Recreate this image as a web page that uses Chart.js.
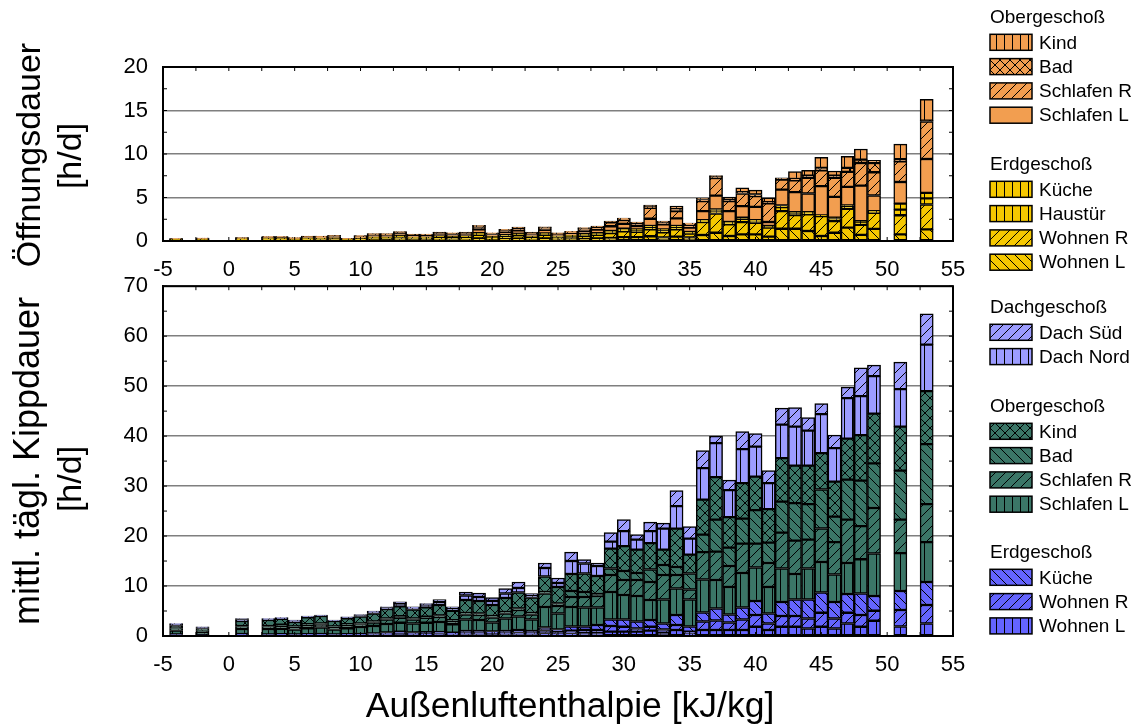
<!DOCTYPE html>
<html>
<head>
<meta charset="utf-8">
<script src="https://cdn.jsdelivr.net/npm/chart.js@4.4.1/dist/chart.umd.min.js"></script>
<style>
  html, body { margin: 0; padding: 0; background: #fff; }
  #wrap { position: relative; width: 1138px; height: 724px; }
  #topChart { position: absolute; left: 0; top: 0; }
  #bottomChart { position: absolute; left: 0; top: 258px; }
</style>
</head>
<body>
<div id="wrap">
  <canvas id="topChart" width="1138" height="285"></canvas>
  <canvas id="bottomChart" width="1138" height="466"></canvas>
</div>
<script>
// Außenluftenthalpie classes [kJ/kg]
const enthalpy = [-4, -2, 1, 3, 4, 5, 6, 7, 8, 9, 10, 11, 12, 13, 14, 15, 16, 17, 18, 19,
  20, 21, 22, 23, 24, 25, 26, 27, 28, 29, 30, 31, 32, 33, 34, 35, 36, 37, 38, 39,
  40, 41, 42, 43, 44, 45, 46, 47, 48, 49, 51, 53];

// top chart: Öffnungsdauer [h/d]
const topWohnenL = [.08,.1,.1,.12,.1,.08,.12,.1,.12,.06, .12,.16,.15,.2,.15,.14,.18,.17,.18,.3,
  .16,.23,.28,.18,.3,.2,.2,.25,.3,.35, .45,.45,.55,.4,.5,.4,.69,.95,.57,.76,
  .76,.5,1.41,1.41,1.15,.57,.95,1.53,.7,1.4, .76,1.34];
const topWohnenR = [.06,.08,.1,.13,.12,.1,.14,.15,.16,.08, .15,.2,.21,.26,.2,.2,.26,.24,.25,.42,
  .23,.32,.38,.25,.4,.25,.3,.35,.4,.55, .65,.6,.8,.6,.85,.45,1.49,2.21,1.34,1.41,
  1.34,1.03,2.02,1.56,1.91,2.29,1.34,2.18,1.15,1.83, 2.2,2.86];
const topHaustuer = [.02,.02,.03,.04,.03,.03,.04,.04,.05,.02, .04,.06,.05,.07,.05,.06,.07,.06,.07,.1,
  .06,.08,.1,.06,.1,.07,.08,.12,.12,.15, .18,.17,.22,.2,.22,.1,.11,.31,.19,.38,
  .19,.12,.46,.27,.19,.04,.3,.3,.38,.1, .65,.7];
const topKueche = [.02,.02,.02,.03,.03,.02,.03,.03,.03,.02, .03,.04,.04,.05,.04,.04,.05,.04,.05,.07,
  .05,.06,.07,.05,.07,.05,.06,.08,.08,.1, .13,.12,.15,.14,.15,.08,.11,.15,.08,.12,
  .11,.07,.19,.08,.07,.04,.08,.07,.06,.1, .69,.63];
const topSchlafenL = [.05,.07,.08,.1,.13,.08,.14,.14,.16,.07, .15,.2,.22,.27,.2,.21,.26,.24,.27,.45,
  .25,.35,.4,.27,.4,.2,.25,.35,.4,.55, .55,.38,.84,.57,.88,.5,1.03,1.6,1.26,1.34,
  1.53,.46,1.83,2.29,2.14,3.36,2.4,2.14,4.08,1.8, 2.48,3.9];
const topSchlafenR = [.02,.03,.03,.05,.06,.04,.06,.07,.09,.03, .08,.12,.11,.15,.1,.1,.14,.13,.14,.3,
  .14,.2,.25,.15,.25,.1,.13,.25,.3,.45, .45,.3,1.26,.2,.84,.3,1.15,2.02,1.15,1.45,
  1.22,2.14,1.15,1.37,1.79,1.83,2.18,1.72,2.6,2.67, 2.37,4.31];
const topBad = [.01,.01,.01,.02,.02,.02,.02,.02,.02,.01, .02,.03,.03,.04,.03,.03,.04,.04,.04,.08,
  .03,.05,.06,.04,.06,.04,.04,.07,.06,.07, .1,.08,.1,.1,.27,.1,.19,.19,.19,.15,
  .19,.15,.19,.15,.27,.27,.27,.46,.38,1.07, .27,.1];
const topKind = [.01,.01,.01,.01,.01,.01,.02,.02,.02,.01, .02,.03,.03,.03,.03,.02,.03,.03,.03,.07,
  .03,.05,.06,.03,.06,.04,.04,.06,.06,.07, .12,.08,.2,.08,.3,.14,.15,.08,.27,.5,
  .5,.5,0,.84,.61,1.22,.53,1.34,1.22,.3, 1.72,2.44];

// bottom chart: mittl. tägl. Kippdauer [h/d]
const botWohnenL = [.1,.1,.15,.1,.1,.1,.1,.1,.1,.1, .1,.15,.2,.25,.2,.2,.25,.2,.3,.3,
  .25,.3,.3,.3,.5,.4,.5,.6,.6,.86, .86,.86,1.06,.66,1.2,.4,1.2,1.2,1.2,1.2,
  1.86,1.2,1.86,1.86,1.5,1.86,1.5,2.5,1.86,3.06, 1.9,2.5];
const botWohnenR = [.1,.05,.1,.1,.1,.1,.1,.15,.1,.1, .15,.15,.2,.3,.2,.25,.25,.2,.3,.3,
  .3,.3,.4,.3,.6,.4,.56,.6,.6,1.14, 1.0,.64,.8,.64,1.0,.46,1.7,1.9,1.5,2.1,
  2.34,1.3,2.14,2.14,2.0,2.8,2.0,2.15,2.34,2.0, 3.3,3.7];
const botKueche = [.1,.1,.15,.1,.15,.1,.15,.15,.1,.15, .15,.2,.3,.3,.3,.3,.3,.25,.4,.4,
  .35,.4,.5,.4,.6,.5,.84,.7,1.0,1.3, 1.44,1.4,1.34,1.2,2.0,1.04,1.8,2.4,1.6,2.4,
  2.8,2.0,2.8,3.3,3.8,4.05,3.3,3.75,4.3,2.95, 3.8,4.6];
const botSchlafenL = [.8,.6,1.0,1.1,1.1,1.0,1.2,1.3,1.0,1.2, 1.4,1.5,1.7,1.8,1.8,1.9,2.0,1.7,2.3,2.2,
  1.8,2.5,2.7,2.3,4.1,3.2,3.9,3.8,3.5,5.5, 4.9,5.1,4.0,4.8,5.3,5.4,6.6,5.7,5.5,6.9,
  6.7,5.3,6.7,5.1,6.2,6.1,5.5,6.2,6.85,8.5, 7.6,8.0];
const botSchlafenR = [.3,.2,.5,.5,.6,.5,.6,.6,.5,.6, .5,.7,.9,1.0,.8,1.0,1.0,.6,1.0,1.0,
  1.0,1.0,1.3,1.0,2.7,1.5,2.0,2.1,2.3,3.4, 3.0,3.2,3.6,4.9,2.7,2.0,5.5,5.7,4.2,5.9,
  4.8,4.8,7.2,6.7,5.8,6.7,6.5,8.7,6.65,9.1, 6.7,7.6];
const botBad = [.1,.05,.1,.1,.2,.1,.2,.2,.1,.2, .2,.2,.2,.3,.2,.2,.3,.2,.3,.3,
  .3,.3,.3,.3,.3,.5,1.2,1.0,.4,1.3, 1.8,1.4,2.5,2.0,1.6,3.2,3.5,6.4,3.7,5.0,
  6.7,4.1,6.2,7.5,7.1,7.8,5.1,8.0,9.1,8.95, 9.8,12.0];
const botKind = [.6,.4,1.0,1.2,1.2,.9,1.4,1.5,1.1,1.2, 1.4,1.6,1.9,2.0,1.8,1.9,2.1,1.9,2.6,2.5,
  2.2,2.8,3.2,3.1,3.1,3.3,3.4,3.7,3.6,4.0, 5.0,4.7,5.3,3.1,7.7,3.8,7.0,8.5,6.1,7.1,
  6.7,6.7,8.7,7.5,7.7,7.3,7.0,8.2,9.1,9.95, 8.8,10.6];
const botDachNord = [.25,.2,.3,.2,.15,.2,.15,.1,.1,.2, .2,.3,.3,.5,.3,.5,.6,.5,.9,.8,
  .8,.9,.9,.5,1.7,.8,2.6,2.0,2.0,1.4, 3.0,2.0,2.4,4.2,4.5,3.2,6.3,6.8,5.4,6.8,
  6.0,5.2,6.7,7.8,7.0,7.8,6.7,8.1,7.8,7.5, 7.5,9.3];
const botDachSued = [.15,.16,.2,.1,.1,.2,.1,.1,.1,.1, .2,.2,.15,.4,.25,.25,.5,.3,.7,.8,
  .7,1.0,1.2,.3,1.0,1.0,1.8,.8,.6,1.8, 2.3,1.0,1.8,1.1,3.1,2.4,3.5,1.4,2.0,3.5,
  2.6,2.5,3.3,3.8,2.6,2.1,2.6,2.2,5.65,2.2, 5.4,6.15];

const xTicks = { min: -5, max: 55, step: 5 };

const ORANGE = '#F29E50';
const YELLOW = '#F5C800';
const GREEN = '#3B7667';
const BLUE = '#6464FF';
const LILAC = '#9C9CFF';
const FONT = "'Liberation Sans', Arial, sans-serif";

// hatch fill like the old excel patterns
function hatch(ctx, color, kind) {
  if (kind === 'solid') return color;
  const s = kind === 'vert' ? 8 : 10;
  const c = document.createElement('canvas');
  c.width = s; c.height = s;
  const g = c.getContext('2d');
  g.fillStyle = color;
  g.fillRect(0, 0, s, s);
  g.strokeStyle = '#000';
  g.lineWidth = 1;
  g.beginPath();
  if (kind === 'vert') {
    g.moveTo(s / 2 + 0.5, 0); g.lineTo(s / 2 + 0.5, s);
  }
  if (kind === 'fwd' || kind === 'cross') {
    g.moveTo(-1, s + 1); g.lineTo(s + 1, -1);
    g.moveTo(-1, 1); g.lineTo(1, -1);
    g.moveTo(s - 1, s + 1); g.lineTo(s + 1, s - 1);
  }
  if (kind === 'back' || kind === 'cross') {
    g.moveTo(-1, -1); g.lineTo(s + 1, s + 1);
    g.moveTo(s - 1, -1); g.lineTo(s + 1, 1);
    g.moveTo(-1, s - 1); g.lineTo(1, s + 1);
  }
  g.stroke();
  return ctx.createPattern(c, 'repeat');
}

function series(ctx, label, values, color, kind) {
  return {
    label: label,
    data: enthalpy.map((x, i) => ({ x: x, y: values[i] })),
    backgroundColor: hatch(ctx, color, kind),
    borderColor: '#000',
    borderWidth: 1.5,
    borderSkipped: false,
    barPercentage: 1,
    categoryPercentage: 1,
  };
}

// frame, minor ticks, axis titles and the grouped legend
const decoPlugin = {
  id: 'deco',
  afterDatasetsDraw(chart, args, o) {
    const { ctx, chartArea: a, scales } = chart;
    ctx.save();
    ctx.strokeStyle = '#000';
    ctx.lineWidth = 2;
    ctx.strokeRect(a.left, a.top, a.right - a.left, a.bottom - a.top);
    ctx.lineWidth = 1;
    ctx.beginPath();
    for (let v = xTicks.min; v <= xTicks.max; v += 2.5) {
      const px = scales.x.getPixelForValue(v);
      ctx.moveTo(px, a.top); ctx.lineTo(px, a.top + 4);
      ctx.moveTo(px, a.bottom); ctx.lineTo(px, a.bottom - 4);
    }
    for (let v = 0; v <= o.yMax; v += o.yMinor) {
      const py = scales.y.getPixelForValue(v);
      ctx.moveTo(a.left, py); ctx.lineTo(a.left + 4, py);
      ctx.moveTo(a.right, py); ctx.lineTo(a.right - 4, py);
    }
    ctx.stroke();
    ctx.restore();
  },
  afterDraw(chart, args, o) {
    const ctx = chart.ctx;
    ctx.save();
    ctx.fillStyle = '#000';
    ctx.textAlign = 'center';
    ctx.textBaseline = 'alphabetic';
    (o.yTitles || []).forEach((t) => {
      ctx.font = t.size + 'px ' + FONT;
      ctx.save();
      ctx.translate(t.x, t.y);
      ctx.rotate(-Math.PI / 2);
      ctx.fillText(t.text, 0, 0);
      ctx.restore();
    });
    if (o.xTitle) {
      ctx.font = o.xTitle.size + 'px ' + FONT;
      ctx.fillText(o.xTitle.text, o.xTitle.x, o.xTitle.y);
    }
    // legend
    ctx.textAlign = 'left';
    ctx.textBaseline = 'middle';
    ctx.font = '19px ' + FONT;
    o.legend.forEach((grp) => {
      let y = grp.y;
      ctx.fillStyle = '#000';
      ctx.fillText(grp.title, 990, y);
      grp.items.forEach((name) => {
        y += 24.3;
        const ds = chart.data.datasets.find((d) => d.label === name);
        ctx.fillStyle = ds.backgroundColor;
        ctx.fillRect(990, y - 8, 42, 16);
        ctx.strokeStyle = '#000';
        ctx.lineWidth = 1.5;
        ctx.strokeRect(990, y - 8, 42, 16);
        ctx.fillStyle = '#000';
        ctx.fillText(name, 1039, y + 1);
      });
    });
    ctx.restore();
  },
};

function makeOptions(yMax, yStep, xHeight, padTop, deco) {
  return {
    responsive: false,
    animation: false,
    events: [],
    layout: { padding: { top: padTop, right: 185, left: 0, bottom: 0 } },
    plugins: { legend: { display: false }, tooltip: { enabled: false }, deco: deco },
    scales: {
      x: {
        type: 'linear',
        stacked: true,
        offset: false,
        min: xTicks.min,
        max: xTicks.max,
        grid: { display: false, offset: false },
        border: { display: true, color: '#000', width: 2 },
        ticks: { stepSize: xTicks.step, color: '#000', padding: 8, font: { family: FONT, size: 22 } },
        afterFit: (s) => { s.height = xHeight; },
      },
      y: {
        stacked: true,
        min: 0,
        max: yMax,
        grid: { color: '#7f7f7f', lineWidth: 1.5, drawTicks: false },
        border: { display: true, color: '#000', width: 2 },
        ticks: { stepSize: yStep, color: '#000', padding: 15, font: { family: FONT, size: 22 } },
        afterFit: (s) => { s.width = 163; },
      },
    },
  };
}

const topCtx = document.getElementById('topChart').getContext('2d');
new Chart(topCtx, {
  type: 'bar',
  data: {
    datasets: [
      series(topCtx, 'Wohnen L', topWohnenL, YELLOW, 'back'),
      series(topCtx, 'Wohnen R', topWohnenR, YELLOW, 'fwd'),
      series(topCtx, 'Haustür', topHaustuer, YELLOW, 'vert'),
      series(topCtx, 'Küche', topKueche, YELLOW, 'vert'),
      series(topCtx, 'Schlafen L', topSchlafenL, ORANGE, 'solid'),
      series(topCtx, 'Schlafen R', topSchlafenR, ORANGE, 'fwd'),
      series(topCtx, 'Bad', topBad, ORANGE, 'cross'),
      series(topCtx, 'Kind', topKind, ORANGE, 'vert'),
    ],
  },
  options: makeOptions(20, 5, 44, 67, {
    yMax: 20, yMinor: 2.5,
    yTitles: [
      { text: 'Öffnungsdauer', x: 40, y: 155, size: 34 },
      { text: '[h/d]', x: 81, y: 156, size: 34 },
    ],
    legend: [
      { title: 'Obergeschoß', y: 18, items: ['Kind', 'Bad', 'Schlafen R', 'Schlafen L'] },
      { title: 'Erdgeschoß', y: 165, items: ['Küche', 'Haustür', 'Wohnen R', 'Wohnen L'] },
    ],
  }),
  plugins: [decoPlugin],
});

const botCtx = document.getElementById('bottomChart').getContext('2d');
new Chart(botCtx, {
  type: 'bar',
  data: {
    datasets: [
      series(botCtx, 'Wohnen L', botWohnenL, BLUE, 'vert'),
      series(botCtx, 'Wohnen R', botWohnenR, BLUE, 'fwd'),
      series(botCtx, 'Küche', botKueche, BLUE, 'back'),
      series(botCtx, 'Schlafen L', botSchlafenL, GREEN, 'vert'),
      series(botCtx, 'Schlafen R', botSchlafenR, GREEN, 'fwd'),
      series(botCtx, 'Bad', botBad, GREEN, 'back'),
      series(botCtx, 'Kind', botKind, GREEN, 'cross'),
      series(botCtx, 'Dach Nord', botDachNord, LILAC, 'vert'),
      series(botCtx, 'Dach Süd', botDachSued, LILAC, 'fwd'),
    ],
  },
  options: makeOptions(70, 10, 88, 15, {
    yMax: 70, yMinor: 5,
    yTitles: [
      { text: 'mittl. tägl. Kippdauer', x: 39, y: 203, size: 36 },
      { text: '[h/d]', x: 81, y: 221, size: 34 },
    ],
    xTitle: { text: 'Außenluftenthalpie [kJ/kg]', x: 570, y: 459, size: 35.5 },
    legend: [
      { title: 'Dachgeschoß', y: 50, items: ['Dach Süd', 'Dach Nord'] },
      { title: 'Obergeschoß', y: 149, items: ['Kind', 'Bad', 'Schlafen R', 'Schlafen L'] },
      { title: 'Erdgeschoß', y: 295, items: ['Küche', 'Wohnen R', 'Wohnen L'] },
    ],
  }),
  plugins: [decoPlugin],
});
</script>
</body>
</html>
